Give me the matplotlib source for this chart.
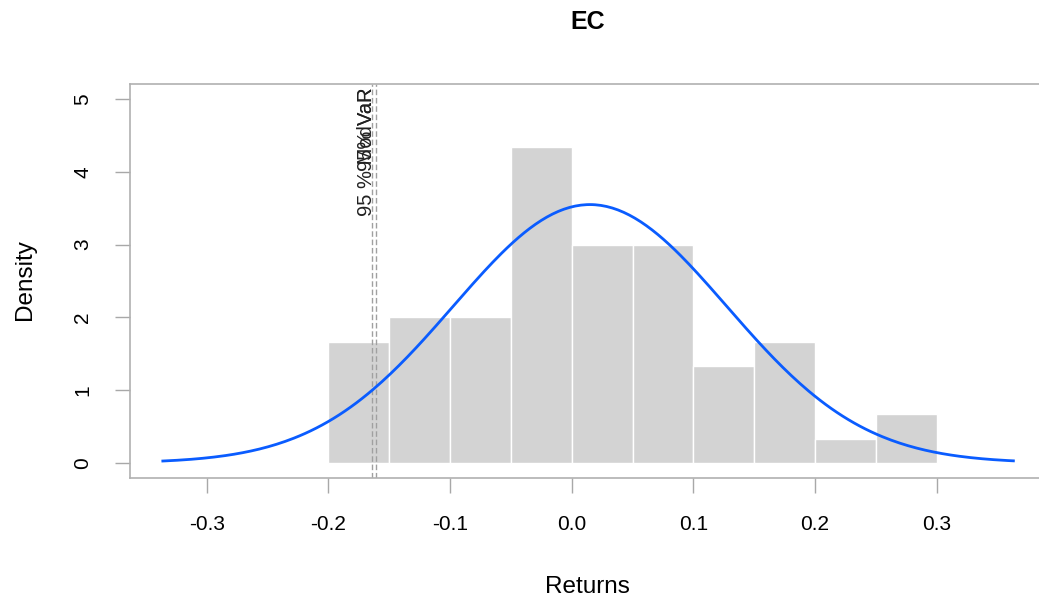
import matplotlib.pyplot as plt
import numpy as np

plt.rcParams['font.family'] = ['Liberation Sans', 'DejaVu Sans']

# histogram of returns (60 observations, bins of 0.05)
bin_edges = [-0.20, -0.15, -0.10, -0.05, 0.00, 0.05, 0.10, 0.15, 0.20, 0.25, 0.30]
counts = [5, 6, 6, 13, 9, 9, 4, 5, 1, 2]

# fitted normal
fit_mean = 0.015
fit_sd = 0.1124
curve_from, curve_to = -0.336, 0.363

# risk lines
var_95 = -0.1612
modvar_95 = -0.1637

x_ticks = [-0.3, -0.2, -0.1, 0.0, 0.1, 0.2, 0.3]
y_ticks = [0, 1, 2, 3, 4, 5]

fig = plt.figure(figsize=(10.39, 5.98), dpi=100)
ax = fig.add_axes([0.1251, 0.2007, 0.8807, 0.6589])

edges = np.array(bin_edges)
widths = np.diff(edges)
dens = np.array(counts) / (sum(counts) * widths)
ax.bar(edges[:-1], dens, width=widths, align='edge', color='#d3d3d3',
       edgecolor='white', linewidth=1.0, zorder=1)

xs = np.linspace(curve_from, curve_to, 300)
ys = np.exp(-0.5 * ((xs - fit_mean) / fit_sd) ** 2) / (fit_sd * np.sqrt(2 * np.pi))
ax.plot(xs, ys, color='#0a5cff', linewidth=2.0, zorder=3)

# labels sit just left of the lines, nearly on top of each other
for v, lab, dx in [(modvar_95, '95 % ModVaR', 0.0032), (var_95, '95% VaR', 0.0007)]:
    ax.axvline(v, color='#a0a0a0', linestyle=(0, (4, 2)), linewidth=1.0, zorder=2)
    ax.text(v + dx, 5.16, lab, rotation=90, ha='right', va='top',
            fontsize=14.5, color='#222222', zorder=4)

ax.set_xlim(-0.363, 0.389)
ax.set_ylim(-0.206, 5.206)
ax.set_xticks(x_ticks)
ax.set_xticklabels(['%.1f' % t for t in x_ticks])
ax.set_yticks(y_ticks)
ax.tick_params(axis='both', length=11, width=1.0, color='#a8a8a8',
               labelsize=15, pad=16)
for lbl in ax.get_yticklabels():
    lbl.set_rotation(90)
    lbl.set_va('center')
for s in ax.spines.values():
    s.set_color('#b0b0b0')
    s.set_linewidth(1.2)

fig.text(0.5655, 0.963, 'EC', ha='center', va='center', fontsize=18, fontweight='bold')
fig.text(0.5655, 0.018, 'Returns', ha='center', va='center', fontsize=17.5)
fig.text(0.024, 0.532, 'Density', ha='center', va='center', rotation=90, fontsize=17.5)

fig.savefig('out.png', dpi=100)
